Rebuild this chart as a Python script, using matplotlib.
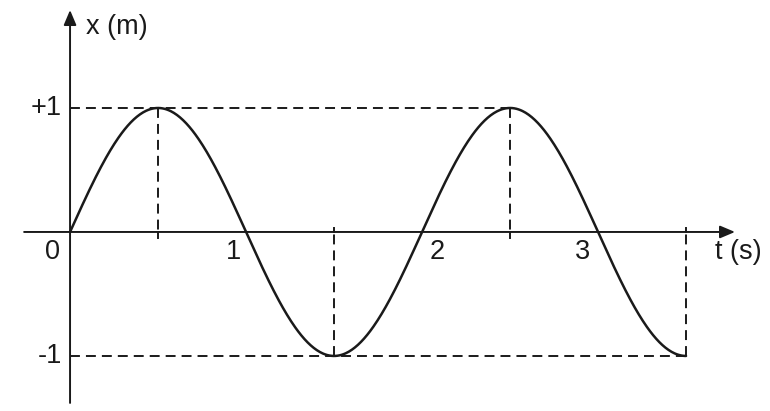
import numpy as np
import matplotlib
matplotlib.use("Agg")
import matplotlib.pyplot as plt

# ---- data ----
amplitude = 1.0          # m
period = 2.0             # s
t_end = 3.5              # s
peak_t = [0.5, 2.5]
trough_t = [1.5, 3.5]
x_tick_labels = ["1", "2", "3"]
x_tick_label_pos = [0.926, 2.085, 2.909]
y_tick_labels = ["+1", "-1"]
y_tick_values = [1.0, -1.0]

plt.rcParams['font.family'] = ['Liberation Sans', 'DejaVu Sans']

fig = plt.figure(figsize=(7.7, 4.11), dpi=100)
ax = fig.add_axes([0, 0, 1, 1])
ax.set_xlim(-0.398, 3.977)
ax.set_ylim(-1.444, 1.871)
ax.axis('off')

ink = '#1a1a1a'

# curve
t = np.linspace(0, t_end, 600)
x = amplitude * np.sin(2 * np.pi * t / period)
ax.plot(t, x, color=ink, lw=1.8, solid_capstyle='round', zorder=3)

# axes with arrows
ax.annotate('', xy=(3.778, 0), xytext=(-0.261, 0),
            arrowprops=dict(arrowstyle='-|>,head_length=0.9,head_width=0.38',
                            lw=1.4, color=ink, shrinkA=0, shrinkB=0))
ax.annotate('', xy=(0, 1.790), xytext=(0, -1.379),
            arrowprops=dict(arrowstyle='-|>,head_length=0.9,head_width=0.38',
                            lw=1.4, color=ink, shrinkA=0, shrinkB=0))

dash = (0, (5.1, 3.1))
# horizontal dashed guides
ax.plot([0, peak_t[-1]], [amplitude, amplitude], color=ink, lw=1.4, ls=dash)
ax.plot([0, trough_t[-1]], [-amplitude, -amplitude], color=ink, lw=1.4, ls=dash)
# vertical dashed guides
for tp in peak_t:
    ax.plot([tp, tp], [amplitude, 0], color=ink, lw=1.4, ls=dash)
    ax.plot([tp, tp], [0.0, -0.05], color=ink, lw=1.4)
for tt in trough_t:
    ax.plot([tt, tt], [-amplitude, 0], color=ink, lw=1.4, ls=dash)
    ax.plot([tt, tt], [0.0, 0.035], color=ink, lw=1.4)

fs = 19.5
ax.text(-0.102, -0.161, "0", fontsize=fs, color=ink, ha='center', va='center')
for lab, pos in zip(x_tick_labels, x_tick_label_pos):
    ax.text(pos, -0.161, lab, fontsize=fs, color=ink, ha='center', va='center')
for lab, val in zip(y_tick_labels, y_tick_values):
    ax.text(-0.045, val, lab, fontsize=fs, color=ink, ha='right', va='center')
ax.text(3.795, -0.161, "t (s)", fontsize=fs, color=ink, ha='center', va='center')
ax.text(0.091, 1.653, "x (m)", fontsize=fs, color=ink, ha='left', va='center')

fig.savefig("out.png", dpi=100, facecolor='white')
